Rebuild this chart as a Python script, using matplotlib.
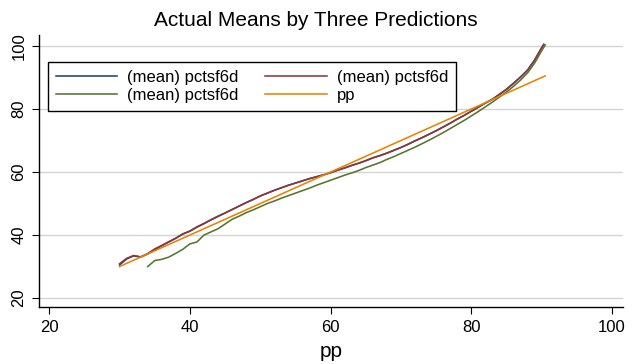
import matplotlib
matplotlib.use("Agg")
import matplotlib.pyplot as plt

plt.rcParams['font.family'] = ['Liberation Sans', 'DejaVu Sans']

# x positions (pp) of the mean series
x_mean = [30, 31, 32, 33, 34, 35, 36, 37, 38, 39, 40, 41, 42, 43, 44, 45, 46, 47, 48, 49,
          50, 51, 52, 53, 54, 55, 56, 57, 58, 59, 60, 61, 62, 63, 64, 65, 66, 67, 68, 69,
          70, 71, 72, 73, 74, 75, 76, 77, 78, 79, 80, 81, 82, 83, 84, 85, 86, 87, 88, 89,
          90, 90.3]
# first prediction (navy), almost hidden under the maroon one
y_navy = [30.5, 32.4, 33.4, 33.0, 34.0, 35.4, 36.6, 37.8, 39.0, 40.3, 41.2, 42.5, 43.6, 44.8,
          45.9, 47.0, 48.1, 49.2, 50.3, 51.3, 52.4, 53.3, 54.2, 55.0, 55.8, 56.5, 57.2, 57.9,
          58.5, 59.1, 59.8, 60.6, 61.3, 62.1, 62.8, 63.6, 64.5, 65.2, 66.0, 66.9, 67.8, 68.8,
          69.9, 70.9, 72.0, 73.1, 74.3, 75.5, 76.8, 78.0, 79.3, 80.6, 81.9, 83.1, 84.7, 86.3,
          88.2, 90.2, 92.4, 95.6, 99.5, 100.5]
# second prediction (maroon)
y_maroon = [30.9, 32.6, 33.5, 33.1, 34.1, 35.6, 36.7, 37.9, 39.0, 40.4, 41.3, 42.6, 43.7, 44.9,
            46.0, 47.0, 48.1, 49.2, 50.3, 51.3, 52.4, 53.3, 54.2, 55.0, 55.8, 56.5, 57.2, 57.9,
            58.5, 59.1, 59.8, 60.6, 61.3, 62.1, 62.8, 63.6, 64.5, 65.2, 66.0, 66.9, 67.8, 68.8,
            69.9, 70.9, 72.0, 73.1, 74.3, 75.5, 76.8, 78.0, 79.3, 80.6, 81.9, 83.1, 84.6, 86.2,
            88.1, 90.1, 92.3, 95.5, 99.4, 100.5]
# third prediction (green)
x_green = [34, 35, 36, 37, 38, 39, 40, 41, 42, 43, 44, 45, 46, 47, 48, 49, 50, 51, 52, 53,
           54, 55, 56, 57, 58, 59, 60, 61, 62, 63, 64, 65, 66, 67, 68, 69, 70, 71, 72, 73,
           74, 75, 76, 77, 78, 79, 80, 81, 82, 83, 84, 85, 86, 87, 88, 89, 90, 90.5]
y_green = [30.0, 31.9, 32.3, 33.0, 34.2, 35.5, 37.2, 37.8, 40.0, 41.0, 42.0, 43.5, 45.0, 46.0,
           47.1, 48.0, 49.0, 50.0, 50.8, 51.7, 52.5, 53.3, 54.1, 54.9, 55.8, 56.6, 57.4, 58.2,
           59.0, 59.7, 60.5, 61.4, 62.2, 63.0, 64.0, 64.9, 65.9, 66.9, 67.9, 69.0, 70.1, 71.3,
           72.5, 73.8, 75.1, 76.4, 77.8, 79.2, 80.7, 82.2, 83.8, 85.4, 87.2, 89.2, 91.5, 94.6,
           98.5, 100.3]
# reference line pp
x_pp = [30, 90.5]
y_pp = [30, 90.5]

labels = ["(mean) pctsf6d", "(mean) pctsf6d", "(mean) pctsf6d", "pp"]
xticks = [20, 40, 60, 80, 100]
yticks = [20, 40, 60, 80, 100]

fig = plt.figure(figsize=(6.32, 3.64), dpi=100)
ax = fig.add_axes([0.0617, 0.156, 0.924, 0.748])

lw = 1.15
l1, = ax.plot(x_mean, y_navy, color="#1a476f", lw=lw, label=labels[0])
l2, = ax.plot(x_mean, y_maroon, color="#90353b", lw=lw, label=labels[1])
l3, = ax.plot(x_green, y_green, color="#55752f", lw=lw, label=labels[2])
l4, = ax.plot(x_pp, y_pp, color="#e88300", lw=lw, label=labels[3])

ax.set_xlim(18.55, 101.55)
ax.set_ylim(17.1, 103.5)
ax.set_xticks(xticks)
ax.set_yticks(yticks)
ax.yaxis.grid(True, color="#d4d4d4", lw=1.0)
ax.set_axisbelow(True)

for s in ["top", "right"]:
    ax.spines[s].set_visible(False)
for s in ["left", "bottom"]:
    ax.spines[s].set_linewidth(1.0)

ax.tick_params(direction="out", length=5, width=0.8, labelsize=12, pad=4)
ax.tick_params(axis="y", labelrotation=90)
for lbl in ax.get_yticklabels():
    lbl.set_va("center")

ax.set_xlabel("pp", fontsize=15, labelpad=5)
fig.text(0.5, 0.945, "Actual Means by Three Predictions", fontsize=15,
         ha="center", va="center")

leg = fig.legend([l1, l3, l2, l4], [labels[0], labels[2], labels[1], labels[3]],
                 ncol=2, loc="upper left", bbox_to_anchor=(0.0764, 0.829),
                 borderaxespad=0, fontsize=12, handlelength=3.7, handletextpad=0.6,
                 columnspacing=1.6, labelspacing=0.2, borderpad=0.45,
                 fancybox=False, framealpha=1)
leg.get_frame().set_edgecolor("black")
leg.get_frame().set_linewidth(1.0)

plt.savefig("out.png", dpi=100)
